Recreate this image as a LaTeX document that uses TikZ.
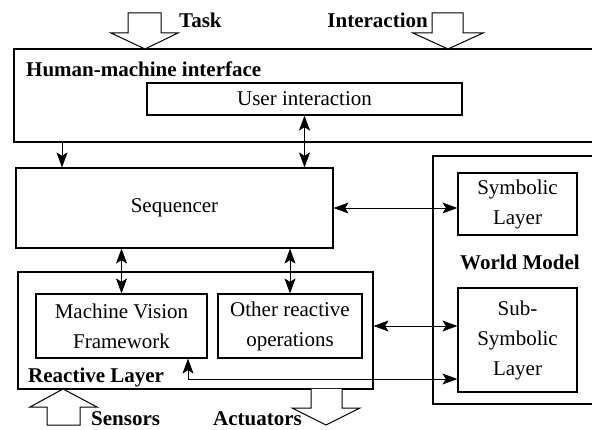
\documentclass[tikz,border=0pt]{standalone}
\usepackage{fontspec}
\setmainfont{Liberation Serif}
\usetikzlibrary{arrows.meta}

\tikzset{
  box/.style={draw, rectangle, line width=1.2pt, inner sep=0pt, align=center},
  title/.style={font=\rmfamily\fontsize{21}{30}\selectfont\bfseries, inner sep=0pt},
  link/.style={line width=0.7pt, {Stealth[length=15pt,width=11pt,inset=3.5pt]}-{Stealth[length=15pt,width=11pt,inset=3.5pt]}},
  onelink/.style={line width=0.7pt, -{Stealth[length=15pt,width=11pt,inset=3.5pt]}},
  bigarrow/.style={draw, line width=1pt, fill=white, line join=miter},
}

\begin{document}
\begin{tikzpicture}[x=1pt, y=-1pt, every node/.style={font=\rmfamily\fontsize{21}{30}\selectfont}]
% page frame, the open boxes run off the right side
\clip (0,0) rectangle (592,430);

% outer layers
\node[box, minimum width=606pt, minimum height=93pt] (hmi) at (317,95.5) {};
\node[box, minimum width=187pt, minimum height=248pt] (wm) at (526.5,280) {};
\node[box, minimum width=355pt, minimum height=117pt] (react) at (195.5,330.5) {};

% inner blocks
\node[box, minimum width=315pt, minimum height=32pt] (ui) at (304.5,99) {User interaction};
\node[box, minimum width=317pt, minimum height=80pt] (seq) at (174.5,208) {Sequencer};
\node[box, minimum width=119pt, minimum height=62pt] (sym) at (517.5,204) {Symbolic\\Layer};
\node[box, minimum width=119pt, minimum height=104pt] (sub) at (517.5,340) {Sub-\\Symbolic\\Layer};
\node[box, minimum width=171pt, minimum height=64pt] (mvf) at (121.5,326) {Machine Vision\\Framework};
\node[box, minimum width=144pt, minimum height=64pt] (other) at (290,326) {Other reactive\\operations};

% layer titles
\node[title, anchor=base west] (hmititle) at (26,77) {Human-machine interface};
\node[title, anchor=base] (wmtitle) at (520,270) {World Model};
\node[title, anchor=base west] (reacttitle) at (28,382) {Reactive Layer};

% inputs and outputs
\draw[bigarrow] (128,13) -- (161,13) -- (161,33) -- (178,33) -- (145,49) -- (111,33) -- (128,33) -- cycle;
\draw[bigarrow] (432,13) -- (463,13) -- (463,33) -- (483,33) -- (448,49) -- (413,33) -- (432,33) -- cycle;
\draw[bigarrow] (47,425) -- (80,425) -- (80,407) -- (97,407) -- (63,389) -- (30,407) -- (47,407) -- cycle;
\draw[bigarrow] (311,389) -- (311,408) -- (292,408) -- (326,425) -- (360,408) -- (342,408) -- (342,389);
\node[title, anchor=base west] (task) at (179,28) {Task};
\node[title, anchor=base east] (inter) at (428,28) {Interaction};
\node[title, anchor=base west] (sensors) at (91,425) {Sensors};
\node[title, anchor=base west] (actuators) at (213,425) {Actuators};

% connections
\coordinate (hs) at (62,0);
\coordinate (vis) at (188,379);
\draw[onelink] (hmi.south -| hs) -- (seq.north -| hs);
\draw[link] (ui.south) -- (ui.south |- seq.north);
\draw[link] (seq.east) -- (seq.east -| sym.west);
\draw[link] (mvf.north |- seq.south) -- (mvf.north);
\draw[link] (other.north |- seq.south) -- (other.north);
\draw[link] (react.east |- other.east) -- (sub.west |- other.east);
\draw[link] (mvf.south -| vis) |- (sub.west |- vis);
\end{tikzpicture}
\end{document}
